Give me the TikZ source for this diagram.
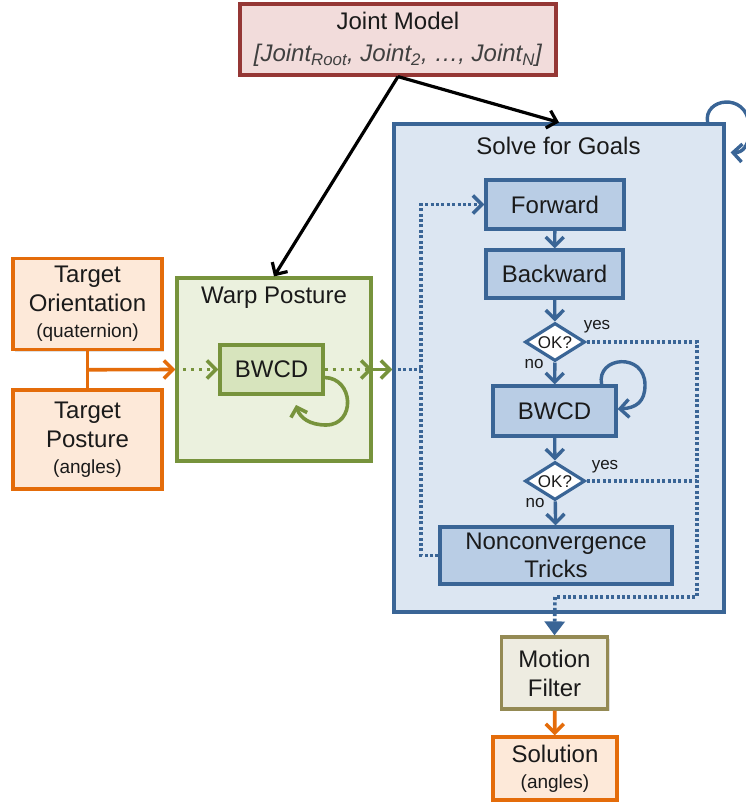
\documentclass[tikz,border=0pt]{standalone}
\usepackage{fontspec}
\setmainfont{Liberation Sans}
\usetikzlibrary{arrows.meta,shapes.geometric,shadows,calc}
\definecolor{txt}{HTML}{1A1A1A}
\definecolor{bluebd}{HTML}{3A6596}
\definecolor{bluefill}{HTML}{B9CDE5}
\definecolor{bluebg}{HTML}{DCE6F2}
\definecolor{greenbd}{HTML}{77933C}
\definecolor{greenbg}{HTML}{EBF1DE}
\definecolor{greenfill}{HTML}{D7E4BD}
\definecolor{orangebd}{HTML}{E46C0A}
\definecolor{orangefill}{HTML}{FDE9D9}
\definecolor{redbd}{HTML}{953735}
\definecolor{redfill}{HTML}{F2DCDB}
\definecolor{olivebd}{HTML}{948A54}
\definecolor{olivefill}{HTML}{EEECE1}
\begin{document}
\begin{tikzpicture}[x=1pt,y=-1pt,
  font=\fontsize{24pt}{29pt}\selectfont,
  shd/.style={drop shadow={shadow xshift=2pt,shadow yshift=-2pt,opacity=0.25}},
  box/.style={draw,line width=3.2pt,inner sep=0pt,align=center,text=txt,shd},
  bluebox/.style={box,draw=bluebd,fill=bluefill},
  greenbox/.style={box,draw=greenbd,fill=greenfill},
  orangebox/.style={box,draw=orangebd,fill=orangefill},
  okdiamond/.style={diamond,draw=bluebd,fill=white,line width=3.2pt,inner sep=0pt,minimum width=60pt,minimum height=38pt},
  tiny/.style={font=\fontsize{17pt}{20pt}\selectfont,text=txt},
  barb/.style={-{Straight Barb[length=9pt,width=18pt]}},
  blk/.style={barb,draw=black,line width=3.2pt},
  bluearr/.style={barb,draw=bluebd,line width=3.4pt},
  bluedot/.style={draw=bluebd,line width=3.6pt,dash pattern=on 3pt off 2.4pt},
  greendot/.style={barb,draw=greenbd,line width=3.6pt,dash pattern=on 3pt off 5pt},
  greenarr/.style={barb,draw=greenbd,line width=3.6pt},
  orangearr/.style={barb,draw=orangebd,line width=3.6pt}
]
\useasboundingbox (0,0) rectangle (746,803);

% containers
\node[box,draw=bluebd,fill=bluebg,minimum width=330pt,minimum height=488pt] (solve) at (559,368) {};
\node[text=txt] (solvet) at (558.5,146) {Solve for Goals};
\node[box,draw=greenbd,fill=greenbg,minimum width=194pt,minimum height=183pt] (warp) at (274,369.5) {};
\node[text=txt] (warpt) at (274,298) {Warp Posture};

% top
\node[box,draw=redbd,fill=redfill,minimum width=316pt,minimum height=71pt,font=\fontsize{24pt}{32pt}\selectfont] (jm) at (398,39.5)
  {Joint Model\\\textcolor{black!75}{\textit{[Joint\textsubscript{Root}, Joint\textsubscript{2}, …, Joint\textsubscript{N}]}}};

% left inputs
\node[orangebox,minimum width=149pt,minimum height=91pt] (to) at (87.5,304)
  {Target\\Orientation\\[-3pt]{\fontsize{19pt}{23pt}\selectfont (quaternion)}};
\node[orangebox,minimum width=149pt,minimum height=99pt] (tp) at (87.5,439.5)
  {Target\\Posture\\[-3pt]{\fontsize{19pt}{23pt}\selectfont (angles)}};

\node[greenbox,minimum width=103pt,minimum height=49pt] (gbwcd) at (271.5,369.5) {BWCD};

% solve internals
\node[bluebox,minimum width=138pt,minimum height=49pt] (fwd) at (555,204.5) {Forward};
\node[bluebox,minimum width=137pt,minimum height=48pt] (bwd) at (554.5,274) {Backward};
\node[okdiamond] (ok1) at (555,342) {};
\node[font=\fontsize{17pt}{20pt}\selectfont,text=txt] (ok1t) at (555,342.5) {OK?};
\node[bluebox,minimum width=123pt,minimum height=50pt] (bwcd) at (554.5,411) {BWCD};
\node[okdiamond] (ok2) at (555,481) {};
\node[font=\fontsize{17pt}{20pt}\selectfont,text=txt] (ok2t) at (555,481.5) {OK?};
\node[bluebox,minimum width=232pt,minimum height=57pt,font=\fontsize{24pt}{28pt}\selectfont] (nct) at (556,555.5) {Nonconvergence\\Tricks};

\node[tiny] (yes1) at (597,327) {yes};
\node[tiny] (no1) at (534,364) {no};
\node[tiny] (yes2) at (605,467) {yes};
\node[tiny] (no2) at (535,503) {no};

% bottom
\node[box,draw=olivebd,fill=olivefill,minimum width=106pt,minimum height=72pt] (mf) at (554.5,673) {Motion\\Filter};
\node[orangebox,minimum width=124pt,minimum height=63pt,font=\fontsize{24pt}{26pt}\selectfont] (sol) at (555,768.5)
  {Solution\\{\fontsize{19pt}{23pt}\selectfont (angles)}};

% joint model arrows
\draw[blk] (jm.south) -- (warp.north);
\draw[blk] (jm.south) -- (solve.north);

% orange inputs
\coordinate (ojoin) at ($(to.south)!0.5!(tp.north)$);
\draw[orangebd,line width=3.6pt] (to.south) -- (tp.north);
\draw[orangearr] (ojoin) -- (warp.west);

% green flow
\draw[greendot] (warp.west) -- (gbwcd.west);
\draw[greendot] (gbwcd.east) -- (warp.east);
\draw[greenarr] (warp.east) -- (warp.east -| solve.west);
\draw[greenbd,line width=3.6pt,-{Straight Barb[length=8pt,width=17pt]}]
  ($(gbwcd.east)+(0,8)$) .. controls (354,378) and (356,425) .. (326,425)
  .. controls (310,425) and (300,418) .. (296,405);

% blue internal flow
\draw[bluearr] (fwd) -- (bwd);
\draw[bluearr] (bwd) -- (ok1);
\draw[bluearr] (ok1) -- (bwcd);
\draw[bluearr] (bwcd) -- (ok2);
\draw[bluearr] (ok2) -- (nct);
\draw[bluearr] ($(bwcd.north east)+(-16,0)$) .. controls (596,356) and (645,352) .. (645,385)
  .. controls (645,402) and (636,408) .. (bwcd.east |- 0,409);
\draw[bluearr] ($(solve.north east)+(-18,0)$) .. controls (703,98) and (746,92) .. (749,124)
  .. controls (751,146) and (742,153) .. ($(solve.north east)+(5,30)$);

% dotted feedback
\coordinate (fbx) at (421,369.5);
\draw[bluedot] (warp.east -| solve.west) -- (fbx);
\draw[bluedot,-{Straight Barb[length=9pt,width=18pt]}] (nct.west) -| (fbx) |- (fwd.west);

% dotted yes paths
\coordinate (yx1) at (697,342);
\coordinate (yx2) at (697,597);
\coordinate (yx3) at (555,597);
\draw[bluedot] (ok1.east) -- (yx1) -- (yx2) -- (yx3);
\draw[bluedot] (ok2.east) -- (ok2.east -| yx1);
\draw[bluedot,-{Triangle[length=14pt,width=20pt]}] (yx3) -- (mf.north);

% output
\draw[orangearr] (mf) -- (sol);
\end{tikzpicture}
\end{document}
